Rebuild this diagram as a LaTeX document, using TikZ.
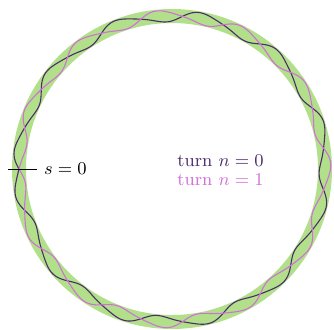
\documentclass[tikz,border=0pt]{standalone}
\definecolor{ringgreen}{RGB}{178,224,138}
\definecolor{turnzero}{RGB}{78,44,108}
\definecolor{turnone}{RGB}{208,112,216}
\begin{document}
\begin{tikzpicture}[x=0.5pt,y=0.5pt,font=\fontsize{9}{11}\selectfont]
  \useasboundingbox (-172,-160) rectangle (162,169);
  \draw[ringgreen,line width=7pt] (0,0) circle (76.5pt);
  \draw[turnzero,line width=0.55pt] plot[domain=0:360,samples=600,smooth] ({180-\x}:{153+5.5*sin(11.5*\x)+1*sin(23*\x)});
  \draw[turnone,line width=0.55pt] plot[domain=0:360,samples=600,smooth] ({180-\x}:{153-5.5*sin(11.5*\x)+1*sin(23*\x)});
  \coordinate (tickL) at (-164,0);
  \coordinate (tickR) at (-135,0);
  \draw[line width=0.5pt] (tickL)--(tickR);
  \node[right] (szero) at (tickR) {$s=0$};
  \node[turnzero,anchor=base west,inner sep=0] (legzero) at (5,3) {turn $n=0$};
  \node[turnone,anchor=base west,inner sep=0] (legone) at (5,-16) {turn $n=1$};
\end{tikzpicture}
\end{document}
